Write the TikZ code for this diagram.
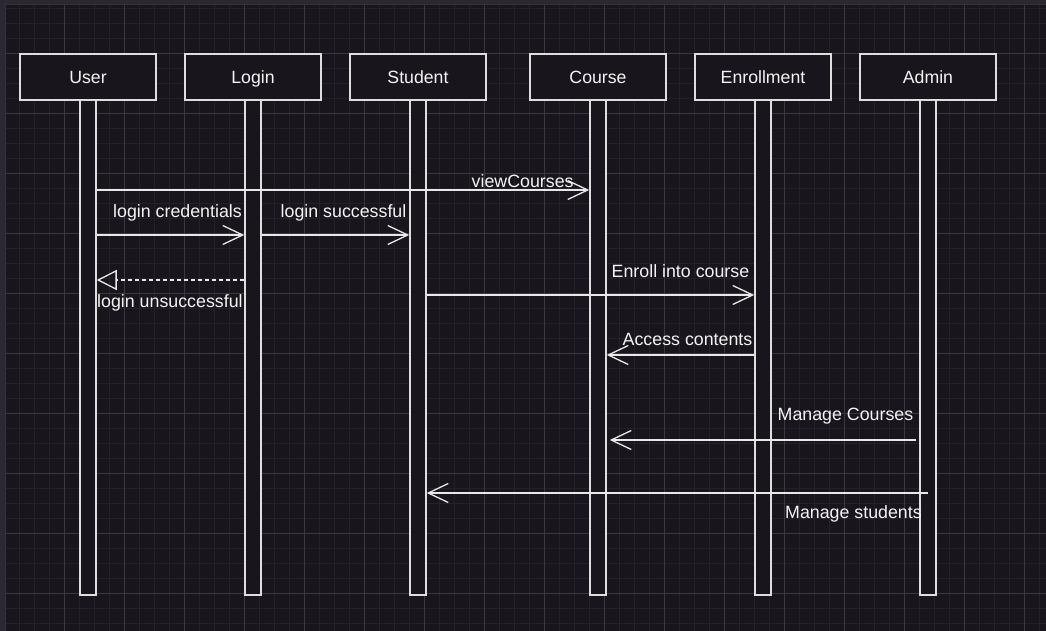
\documentclass[tikz,border=0pt]{standalone}
\usepackage{fontspec}
\setmainfont{Liberation Sans}
\usetikzlibrary{arrows.meta}
\definecolor{bgc}{HTML}{18151D}
\definecolor{minorc}{HTML}{24212A}
\definecolor{majorc}{HTML}{3A3840}
\definecolor{stripc}{HTML}{2B2833}
\definecolor{linec}{HTML}{E8E8E8}
\definecolor{boxc}{HTML}{DEDEDE}
\definecolor{txtc}{HTML}{F4F4F4}
\tikzset{
  actorbox/.style={draw=boxc, line width=1.8pt, fill=bgc, minimum width=136pt, minimum height=46pt,
    inner sep=0pt, text=txtc, font=\fontsize{17.7}{21}\selectfont, text height=12.6pt, text depth=0pt},
  lifebar/.style={draw=boxc, line width=1.5pt, fill=bgc, minimum width=16pt, minimum height=495pt, inner sep=0pt},
  msg/.style={draw=linec, line width=1.3pt, -{Straight Barb[length=20pt,width=19pt]}},
  retmsg/.style={draw=linec, line width=1.3pt, dash pattern=on 4pt off 3pt, -{Triangle[open,length=20pt,width=20pt]}},
  msglabel/.style={text=txtc, font=\fontsize{17.8}{21}\selectfont, inner sep=0pt, anchor=base west}
}
\begin{document}
\begin{tikzpicture}[x=1pt,y=-1pt]
\useasboundingbox (0,0) rectangle (1046,631);
\fill[bgc] (0,0) rectangle (1046,631);
% grid
\foreach \i in {0,...,69} { \draw[minorc, line width=0.8pt] ({4+15*\i},0) -- ({4+15*\i},631); }
\foreach \j in {0,...,41} { \draw[minorc, line width=0.8pt] (0,{8+15*\j}) -- (1046,{8+15*\j}); }
\foreach \i in {0,...,17} { \draw[majorc, line width=0.8pt] ({4+60*\i},0) -- ({4+60*\i},631); }
\foreach \j in {0,...,9} { \draw[majorc, line width=0.8pt] (0,{53+60*\j}) -- (1046,{53+60*\j}); }
% frame strips
\fill[stripc] (0,0) rectangle (1046,4);
\fill[stripc] (0,0) rectangle (5,631);
\draw[black!80, line width=0.6pt] (5,4.3) -- (1046,4.3);
\draw[black!80, line width=0.6pt] (5.3,4) -- (5.3,631);
% lifelines
\node[lifebar] (userL) at (88,347.5) {};
\node[lifebar] (loginL) at (253,347.5) {};
\node[lifebar] (studentL) at (418,347.5) {};
\node[lifebar] (courseL) at (598,347.5) {};
\node[lifebar] (enrollL) at (763,347.5) {};
\node[lifebar] (adminL) at (928,347.5) {};
% actor boxes
\node[actorbox] (user) at (88,77) {User};
\node[actorbox] (login) at (253,77) {Login};
\node[actorbox] (student) at (418,77) {Student};
\node[actorbox] (course) at (598,77) {Course};
\node[actorbox] (enroll) at (763,77) {Enrollment};
\node[actorbox] (admin) at (928,77) {Admin};
% message rows
\coordinate (r1) at (0,190);
\coordinate (r2) at (0,235);
\coordinate (r3) at (0,280);
\coordinate (r4) at (0,295);
\coordinate (r5) at (0,355);
\coordinate (r6) at (0,440);
\coordinate (r7) at (0,493);
% messages
\draw[msg] (userL.east |- r1) -- (courseL.west |- r1);
\draw[msg] (userL.east |- r2) -- (loginL.west |- r2);
\draw[msg] (loginL.east |- r2) -- (studentL.west |- r2);
\draw[retmsg] (loginL.west |- r3) -- (userL.east |- r3);
\draw[msg] (studentL.east |- r4) -- (enrollL.west |- r4);
\draw[msg] (enrollL.west |- r5) -- (courseL.east |- r5);
\draw[msg] ([xshift=-3pt]adminL.west |- r6) -- ([xshift=3pt]courseL.east |- r6);
\draw[msg] (adminL.center |- r7) -- (studentL.east |- r7);
% labels
\node[msglabel] (l1) at (471.5,187) {viewCourses};
\node[msglabel] (l2) at (113,217.5) {login credentials};
\node[msglabel] (l3) at (280.5,217.5) {login successful};
\node[msglabel] (l4) at (97,307) {login unsuccessful};
\node[msglabel] (l5) at (611.5,277.5) {Enroll into course};
\node[msglabel] (l6) at (622.5,345) {Access contents};
\node[msglabel] (l7) at (777.5,420) {Manage Courses};
\node[msglabel] (l8) at (785,518) {Manage students};
\end{tikzpicture}
\end{document}
